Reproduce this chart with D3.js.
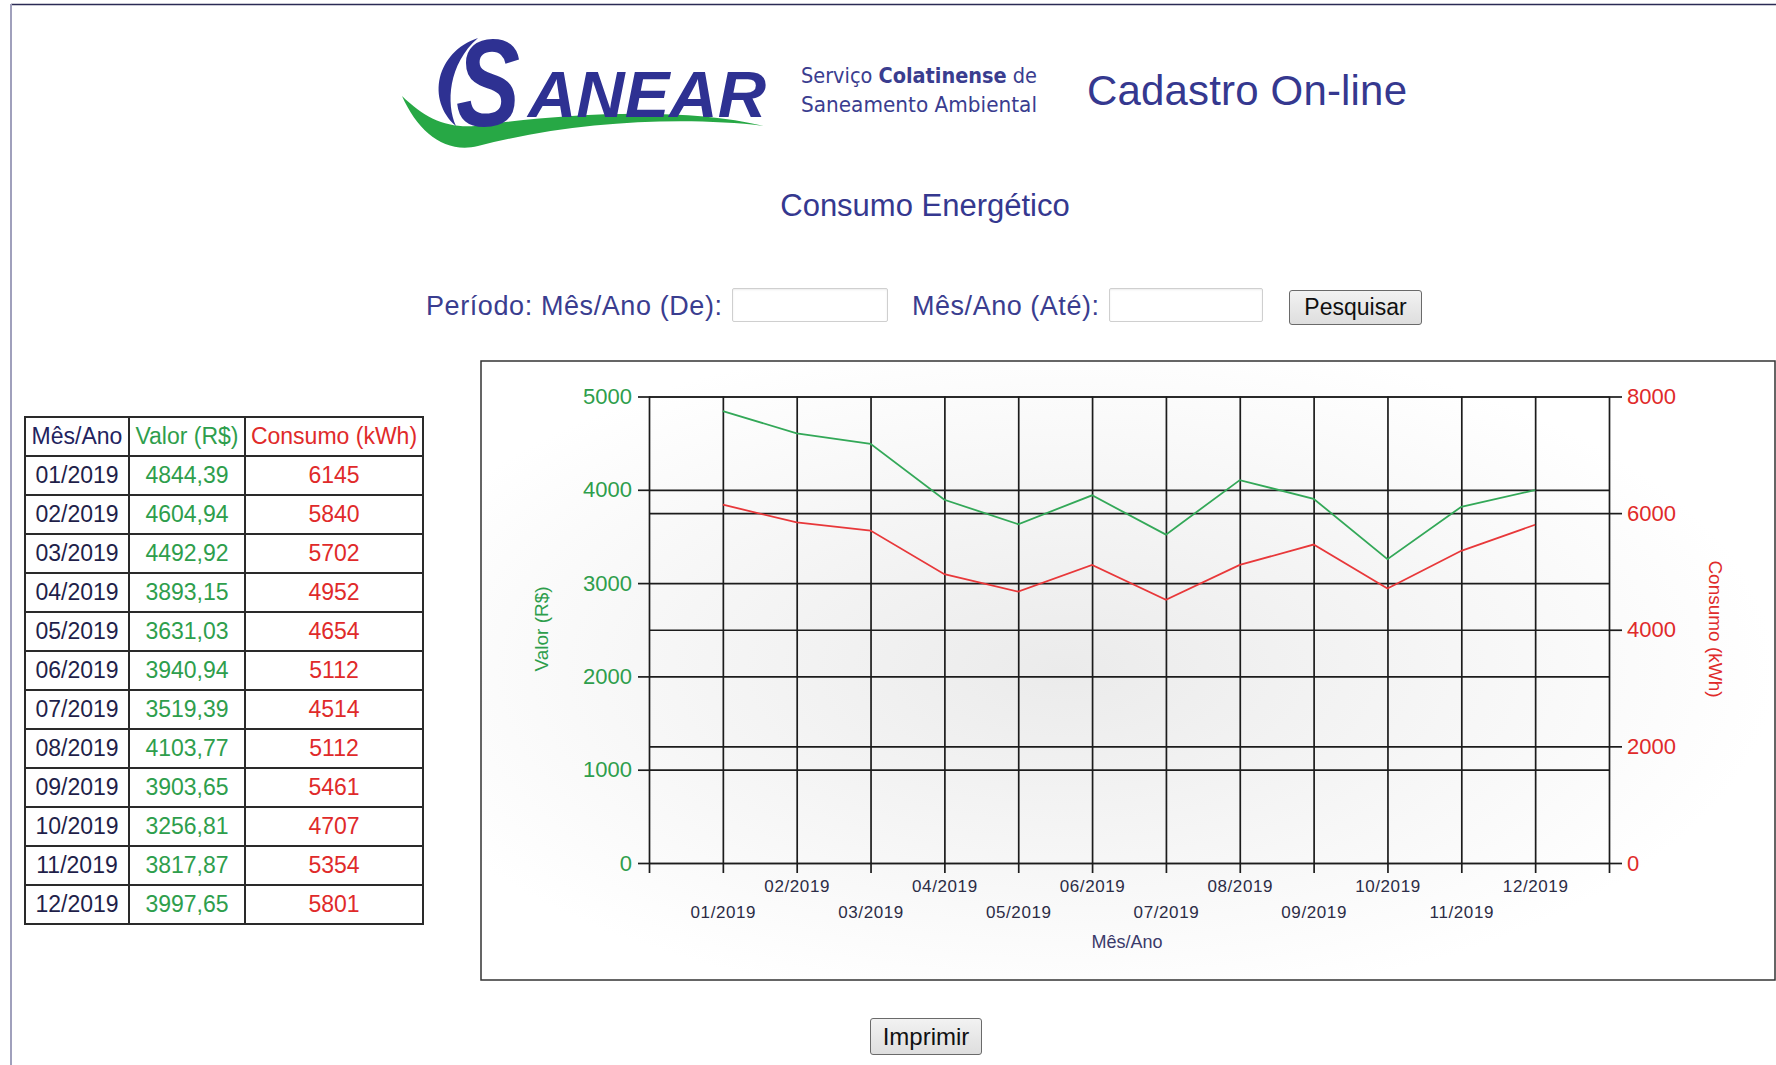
<!DOCTYPE html>
<html>
<head>
<meta charset="utf-8">
<script src="https://cdn.jsdelivr.net/npm/d3@7"></script>
<style>
  body { margin: 0; width: 1776px; height: 1065px; overflow: hidden; background: #fff;
         font-family: "Liberation Sans", Arial, sans-serif; position: relative; }
  #page { position: absolute; left: 0; top: 0; }
  .inp { position: absolute; height: 34px; border: 1px solid #cfcfcf; border-radius: 2px;
         box-shadow: inset 0 1px 2px rgba(0,0,0,0.08); background: #fff; box-sizing: border-box; }
  .btn { position: absolute; box-sizing: border-box; border: 1.5px solid #6a6a6a; border-radius: 3px;
         background: linear-gradient(#f2f2f2, #dedede); font-family: "Liberation Sans", Arial, sans-serif;
         color: #111; padding: 0; }
  table { position: absolute; left: 24px; top: 416px; border-collapse: collapse; border: 2px solid #2a2a2a;
          font-size: 23px; }
  td, th { border: 2px solid #2a2a2a; height: 37px; padding: 0; text-align: center; font-weight: normal; }
</style>
</head>
<body>
<svg id="page" width="1776" height="1065"></svg>
<div class="inp" style="left:732px;top:288px;width:156px;"></div>
<div class="inp" style="left:1109px;top:288px;width:154px;"></div>
<button class="btn" style="left:1289px;top:290px;width:133px;height:35px;font-size:23px;">Pesquisar</button>
<button class="btn" style="left:870px;top:1018px;width:112px;height:37px;font-size:24px;">Imprimir</button>
<table id="tabela"></table>
<script>
// dados do consumo energetico
const meses = ["01/2019", "02/2019", "03/2019", "04/2019", "05/2019", "06/2019",
               "07/2019", "08/2019", "09/2019", "10/2019", "11/2019", "12/2019"];
const valor = [4844.39, 4604.94, 4492.92, 3893.15, 3631.03, 3940.94,
               3519.39, 4103.77, 3903.65, 3256.81, 3817.87, 3997.65];
const consumo = [6145, 5840, 5702, 4952, 4654, 5112, 4514, 5112, 5461, 4707, 5354, 5801];
const ticksValor = [0, 1000, 2000, 3000, 4000, 5000];
const ticksConsumo = [0, 2000, 4000, 6000, 8000];
const cabecalho = ["Mês/Ano", "Valor (R$)", "Consumo (kWh)"];

const azul = "#2e3192", verde = "#2e9e4c", vermelho = "#e02a2a", escuro = "#1c1c1c";
const fonte = "Liberation Sans, Arial, sans-serif";

const svg = d3.select("#page");

// moldura da pagina
svg.append("line").attr("x1", 11).attr("x2", 1776).attr("y1", 4.5).attr("y2", 4.5)
  .attr("stroke", "#2b2b55").attr("stroke-width", 1.5);
svg.append("line").attr("x1", 11).attr("x2", 11).attr("y1", 4).attr("y2", 1065)
  .attr("stroke", "#a0a0bc").attr("stroke-width", 2);

// logo
const logo = svg.append("g");
logo.append("path")
  .attr("d", "M402,96 C425,118 445,128 475,126 C560,114 680,106 764,126 C680,116 570,122 478,146 C445,154 418,132 402,96 Z")
  .attr("fill", "#27a845");
logo.append("path")
  .attr("d", "M478,38 C436,52 426,100 456,126 C446,104 448,64 478,38 Z")
  .attr("fill", azul);
logo.append("text").attr("x", 456).attr("y", 126).text("S")
  .attr("font-family", fonte).attr("font-weight", "bold").attr("font-style", "italic")
  .attr("font-size", 124).attr("fill", azul).attr("textLength", 64).attr("lengthAdjust", "spacingAndGlyphs");
logo.append("text").attr("x", 528).attr("y", 117).text("ANEAR")
  .attr("font-family", fonte).attr("font-weight", "bold").attr("font-style", "italic")
  .attr("font-size", 64).attr("fill", azul).attr("textLength", 238).attr("lengthAdjust", "spacingAndGlyphs");

const narrow = "Liberation Sans Narrow, DejaVu Sans Condensed, Arial, sans-serif";
const l1 = svg.append("text").attr("x", 801).attr("y", 83).attr("font-family", narrow)
  .attr("font-size", 22).attr("fill", "#3a3d8f").attr("textLength", 236).attr("lengthAdjust", "spacingAndGlyphs");
l1.append("tspan").text("Serviço ");
l1.append("tspan").attr("font-weight", "bold").text("Colatinense");
l1.append("tspan").text(" de");
svg.append("text").attr("x", 801).attr("y", 112).attr("font-family", narrow)
  .attr("font-size", 22).attr("fill", "#3a3d8f").attr("textLength", 236).attr("lengthAdjust", "spacingAndGlyphs")
  .text("Saneamento Ambiental");

svg.append("text").attr("x", 1087).attr("y", 90).attr("dy", "0.35em").text("Cadastro On-line")
  .attr("font-family", fonte).attr("font-size", 42).attr("fill", "#35388f").attr("textLength", 320);

svg.append("text").attr("x", 925).attr("y", 205).attr("dy", "0.35em").attr("text-anchor", "middle")
  .text("Consumo Energético").attr("font-family", fonte).attr("font-size", 31).attr("fill", "#35388f");

svg.append("text").attr("x", 426).attr("y", 306).attr("dy", "0.35em").text("Período: Mês/Ano (De):")
  .attr("font-family", fonte).attr("font-size", 27).attr("fill", "#3a3d8f").attr("textLength", 296);
svg.append("text").attr("x", 912).attr("y", 306).attr("dy", "0.35em").text("Mês/Ano (Até):")
  .attr("font-family", fonte).attr("font-size", 27).attr("fill", "#3a3d8f").attr("textLength", 187);

// tabela
const tabela = d3.select("#tabela");
const coresCab = ["#23235e", verde, vermelho];
const larguras = [102, 114, 176];
tabela.append("tr").selectAll("th").data(cabecalho).join("th")
  .style("color", (d, i) => coresCab[i]).style("width", (d, i) => larguras[i] + "px").text(d => d);
const fmt = v => v.toFixed(2).replace(".", ",");
tabela.selectAll("tr.linha").data(meses).join("tr").attr("class", "linha")
  .each(function(m, i) {
    const tr = d3.select(this);
    tr.append("td").style("color", "#1f1f4a").text(m);
    tr.append("td").style("color", verde).text(fmt(valor[i]));
    tr.append("td").style("color", vermelho).text(consumo[i]);
  });

// grafico
const box = { left: 481, top: 361, right: 1775, bottom: 980 };
const plot = { left: 649, right: 1609, top: 396.5, bottom: 863 };

const defs = svg.append("defs");
const grad = defs.append("radialGradient").attr("id", "fundo")
  .attr("cx", "0.45").attr("cy", "0.5").attr("r", "0.55");
grad.append("stop").attr("offset", "0%").attr("stop-color", "#ebebeb");
grad.append("stop").attr("offset", "100%").attr("stop-color", "#ffffff");

svg.append("rect").attr("x", box.left).attr("y", box.top)
  .attr("width", box.right - box.left).attr("height", box.bottom - box.top)
  .attr("fill", "url(#fundo)").attr("stroke", "#333").attr("stroke-width", 1.5);

const x = d3.scaleLinear().domain([0, 13]).range([plot.left, plot.right]);
const yL = d3.scaleLinear().domain([0, 5000]).range([plot.bottom, plot.top]);
const yR = d3.scaleLinear().domain([0, 8000]).range([plot.bottom, plot.top]);
const largura = plot.right - plot.left, altura = plot.bottom - plot.top;

const estilo = g => {
  g.selectAll("line").attr("stroke", escuro).attr("stroke-width", 1.7);
  g.select(".domain").remove();
};

// grades
svg.append("g").attr("transform", `translate(${plot.left},0)`)
  .call(d3.axisLeft(yL).tickValues(ticksValor).tickSize(-largura).tickFormat(""))
  .call(estilo);
svg.append("g").attr("transform", `translate(${plot.right},0)`)
  .call(d3.axisRight(yR).tickValues(ticksConsumo).tickSize(-largura).tickFormat(""))
  .call(estilo);
svg.append("g").attr("transform", `translate(0,${plot.bottom})`)
  .call(d3.axisBottom(x).tickValues(d3.range(0, 14)).tickSize(-altura).tickFormat(""))
  .call(estilo);

// eixos
const eixoL = svg.append("g").attr("transform", `translate(${plot.left},0)`)
  .call(d3.axisLeft(yL).tickValues(ticksValor).tickSize(11).tickPadding(6).tickFormat(d3.format("d")))
  .call(estilo);
eixoL.selectAll("text").attr("font-family", fonte).attr("font-size", 22).attr("fill", verde);

const eixoR = svg.append("g").attr("transform", `translate(${plot.right},0)`)
  .call(d3.axisRight(yR).tickValues(ticksConsumo).tickSize(13).tickPadding(5).tickFormat(d3.format("d")))
  .call(estilo);
eixoR.selectAll("text").attr("font-family", fonte).attr("font-size", 22).attr("fill", vermelho);

const eixoX = svg.append("g").attr("transform", `translate(0,${plot.bottom})`)
  .call(d3.axisBottom(x).tickValues(d3.range(0, 14)).tickSize(10)
    .tickFormat(d => (d >= 1 && d <= 12) ? meses[d - 1] : ""))
  .call(estilo);
eixoX.selectAll("text").attr("font-family", fonte).attr("font-size", 17).attr("fill", "#2c2c46")
  .attr("letter-spacing", 0.6).attr("dy", "0.35em")
  .attr("y", d => d % 2 === 0 ? 23 : 49);

svg.append("text").attr("x", 1127).attr("y", 942).attr("dy", "0.35em").attr("text-anchor", "middle")
  .text("Mês/Ano").attr("font-family", fonte).attr("font-size", 18).attr("fill", "#3a3a6a");

svg.append("text").attr("transform", "translate(541,629) rotate(-90)").attr("text-anchor", "middle")
  .attr("dy", "0.35em").text("Valor (R$)").attr("font-family", fonte).attr("font-size", 19).attr("fill", verde);
svg.append("text").attr("transform", "translate(1716,629) rotate(90)").attr("text-anchor", "middle")
  .attr("dy", "0.35em").text("Consumo (kWh)").attr("font-family", fonte).attr("font-size", 19).attr("fill", vermelho);

// linhas
const linhaValor = d3.line().x((d, i) => x(i + 1)).y(d => yL(d));
const linhaConsumo = d3.line().x((d, i) => x(i + 1)).y(d => yR(d));
svg.append("path").datum(valor).attr("d", linhaValor)
  .attr("fill", "none").attr("stroke", "#33a858").attr("stroke-width", 1.8);
svg.append("path").datum(consumo).attr("d", linhaConsumo)
  .attr("fill", "none").attr("stroke", "#e8383a").attr("stroke-width", 1.8);
</script>
</body>
</html>
